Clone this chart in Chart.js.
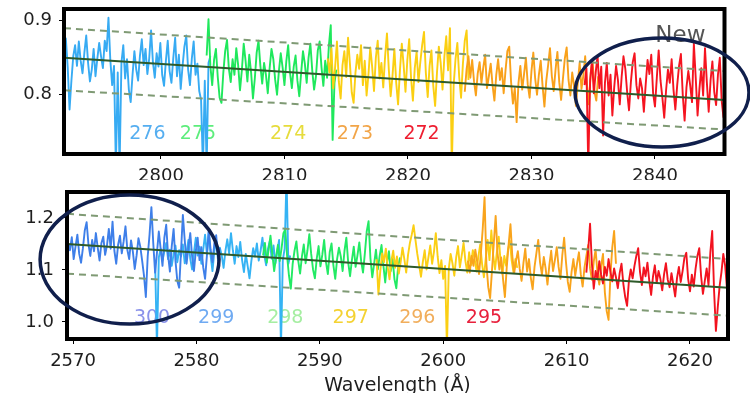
<!DOCTYPE html>
<html><head><meta charset="utf-8">
<script src="https://cdn.jsdelivr.net/npm/chart.js@4.4.1/dist/chart.umd.min.js"></script>
<style>
html,body{margin:0;padding:0;background:#fff;overflow:hidden;width:750px;height:393px;}
canvas{position:absolute;left:0;}
#c1{top:0;}
#c2{top:180px;}
</style></head><body>
<canvas id="c1" width="750" height="180"></canvas>
<canvas id="c2" width="750" height="217"></canvas>
<script>
const STEP = 0.15; // wavelength sampling (Å)

// ---------- TOP PANEL ----------
const topOrders = [276, 275, 274, 273, 272];
const topStarts = [2792.15, 2803.70, 2813.50, 2824.60, 2834.30];
const flux276 = [0.862,0.875,0.836,0.779,0.818,0.851,0.866,0.838,0.871,0.845,0.828,0.856,0.879,0.842,0.817,0.833,0.861,0.824,0.848,0.869,
0.851,0.835,0.872,0.858,0.903,0.846,0.812,0.838,0.700,0.829,0.700,0.842,0.866,0.821,0.847,0.806,0.789,0.826,0.858,0.833,
0.818,0.852,0.874,0.839,0.861,0.827,0.848,0.886,0.843,0.822,0.855,0.837,0.869,0.826,0.811,0.845,0.872,0.831,0.815,0.849,
0.876,0.824,0.853,0.807,0.838,0.864,0.879,0.833,0.812,0.848,0.871,0.826,0.841,0.804,0.792,0.700,0.818,0.700,0.842,0.851];
const flux275 = [0.852,0.901,0.838,0.812,0.846,0.861,0.823,0.795,0.788,0.829,0.858,0.873,0.834,0.816,0.847,0.826,0.862,0.839,0.805,0.832,
0.868,0.845,0.817,0.853,0.829,0.794,0.821,0.856,0.872,0.838,0.814,0.842,0.826,0.801,0.835,0.861,0.847,0.819,0.799,0.831,
0.855,0.836,0.812,0.844,0.866,0.829,0.808,0.837,0.852,0.818,0.797,0.828,0.858,0.841,0.815,0.849,0.868,0.832,0.806,0.824,
0.859,0.871,0.836,0.811,0.845,0.822,0.866,0.893,0.738,0.815,0.833];
const flux274 = [0.848,0.829,0.862,0.808,0.836,0.871,0.817,0.794,0.839,0.858,0.823,0.876,0.841,0.802,0.788,0.829,0.853,0.834,0.866,0.812,
0.845,0.798,0.826,0.863,0.837,0.804,0.849,0.872,0.821,0.842,0.809,0.851,0.882,0.833,0.797,0.825,0.861,0.815,0.786,0.832,
0.868,0.839,0.803,0.846,0.874,0.822,0.791,0.835,0.857,0.816,0.843,0.866,0.884,0.828,0.796,0.838,0.859,0.811,0.784,0.829,
0.864,0.842,0.806,0.851,0.878,0.832,0.889,0.700,0.812,0.847,0.869,0.823,0.795,0.841,0.872,0.886,0.819];
const flux273 = [0.803,0.834,0.851,0.822,0.846,0.817,0.798,0.828,0.843,0.815,0.836,0.853,0.808,0.824,0.841,0.812,0.791,0.826,0.847,0.819,
0.835,0.801,0.832,0.858,0.864,0.816,0.787,0.808,0.762,0.815,0.838,0.806,0.827,0.849,0.813,0.795,0.831,0.856,0.821,0.799,
0.826,0.845,0.811,0.783,0.818,0.839,0.862,0.824,0.804,0.833,0.857,0.816,0.792,0.821,0.848,0.863,0.819,0.798,0.829,0.811,
0.784,0.815,0.842,0.807,0.825,0.851,0.812,0.786,0.829,0.846,0.803,0.791,0.824];
const flux272 = [0.812,0.835,0.700,0.818,0.846,0.801,0.829,0.852,0.808,0.837,0.744,0.815,0.842,0.798,0.826,0.771,0.809,0.838,0.819,0.786,
0.823,0.851,0.834,0.802,0.778,0.816,0.843,0.855,0.812,0.794,0.821,0.808,0.776,0.813,0.846,0.827,0.853,0.801,0.783,0.822,
0.859,0.818,0.795,0.768,0.805,0.833,0.815,0.847,0.806,0.779,0.812,0.838,0.854,0.799,0.764,0.809,0.831,0.812,0.789,0.868,
0.822,0.771,0.807,0.835,0.798,0.862,0.816,0.776,0.818,0.844,0.803,0.785,0.826,0.849,0.791,0.768];
const topFlux = [flux276, flux275, flux274, flux273, flux272];
const topColors = ['#37abf3', '#1fe85c', '#fbcf12', '#f9a11a', '#f51420'];
const topLabelColors = ['#55aef0', '#5ded7c', '#e6dc3c', '#f2a548', '#ee1e30'];
const topLabelX = [2798.9, 2803.0, 2810.3, 2815.7, 2821.1];
const topLabelY = 0.746;
const topFitX = [2792.15, 2845.63];
const topFitY = [0.849, 0.792];
const topUpperY = [0.889, 0.831];
const topLowerY = [0.805, 0.752];
const topXTicks = [2800, 2810, 2820, 2830, 2840];
const topYTicks = [0.8, 0.9];
const topXRange = [2792.15, 2845.63];
const topYRange = [0.7189, 0.9149];
const topEllipse = [2840.57, 0.802, 7.04, 0.0736]; // centre x, centre y, radius x, radius y (data units)

// ---------- BOTTOM PANEL ----------
const botOrders = [300, 299, 298, 297, 296, 295];
const botStarts = [2569.60, 2576.65, 2585.40, 2594.60, 2602.00, 2611.60];
const flux300 = [1.152,1.138,1.163,1.121,1.145,1.168,1.131,1.114,1.142,1.176,1.192,1.149,1.127,1.158,1.136,1.171,1.143,1.118,1.152,1.164,
1.129,1.147,1.179,1.141,1.193,1.137,1.112,1.148,1.166,1.132,1.155,1.184,1.139,1.121,1.157,1.135,1.102,1.128,1.161,1.145,
1.118,1.089,1.048,1.126,1.168,1.221,1.152,1.095,1.133,1.174,1.141,1.108,1.162,1.187,1.129,1.097,1.146,1.179,1.118,1.079,
1.066,1.135,1.206,1.158,1.112,1.143,1.171,1.126,1.098,1.137,1.162,1.119,1.144,1.105,1.083,1.128,1.176,1.139,1.115,1.151,
1.167,1.124,1.142];
const flux299 = [1.118,0.950,1.124,1.141,1.118,1.136,1.152,1.121,1.139,1.108,1.131,1.147,1.115,1.138,1.126,1.149,1.113,1.135,1.158,1.122,
1.101,1.134,1.162,1.128,1.145,1.112,1.139,1.168,1.131,1.174,1.127,1.098,1.136,1.155,1.119,1.143,1.128,1.104,1.137,1.159,
1.132,1.171,1.138,1.112,1.146,1.125,1.154,1.119,1.096,1.131,1.108,1.084,1.117,1.142,1.126,1.151,1.118,1.137,1.162,1.128,
1.109,1.141,1.156,1.122,1.147,1.113,1.136,1.158,0.950,1.119,1.141,1.280,1.112,1.128];
const flux298 = [1.128,1.152,1.114,1.139,1.166,1.131,1.098,1.124,1.148,1.117,1.142,1.171,1.178,1.126,1.089,1.064,1.112,1.137,1.155,1.118,
1.093,1.126,1.149,1.113,1.138,1.169,1.131,1.101,1.084,1.122,1.146,1.107,1.129,1.158,1.115,1.092,1.134,1.151,1.109,1.083,
1.121,1.143,1.126,1.098,1.137,1.162,1.114,1.088,1.119,1.145,1.106,1.128,1.153,1.117,1.095,1.132,1.174,1.194,1.123,1.086,
1.112,1.139,1.101,1.127,1.148,1.109,1.076,1.114,1.136,1.098,1.121,1.082,1.065,1.107,1.124];
const flux297 = [1.121,1.053,1.098,1.132,1.115,1.141,1.106,1.082,1.118,1.137,1.104,1.126,1.093,1.115,1.143,1.121,1.095,1.129,1.152,1.168,
1.186,1.158,1.131,1.109,1.087,1.116,1.138,1.101,1.124,1.147,1.112,1.135,1.171,1.126,1.094,1.119,1.083,1.108,0.950,1.102,
1.131,1.113,1.089,1.124,1.146,1.105,1.128,1.152,1.117,1.095,1.134,1.109,1.138,1.121,1.097,1.126,1.149,1.112,1.086,1.123,
1.158,1.119,1.176,1.128,1.101,1.135,1.164,1.115,1.092,1.127,1.108,1.139,1.156,1.118,1.095,1.121,1.104];
const flux296 = [1.118,1.095,1.127,1.108,1.139,1.116,1.092,1.131,1.178,1.240,1.112,1.067,1.046,1.098,1.152,1.204,1.133,1.101,1.124,1.082,
1.048,1.106,1.149,1.188,1.127,1.094,1.118,1.136,1.102,1.079,1.113,1.141,1.097,1.121,1.085,1.063,1.106,1.132,1.158,1.114,
1.091,1.125,1.103,1.072,1.109,1.137,1.098,1.119,1.144,1.106,1.083,1.128,1.162,1.115,1.077,1.058,1.096,1.121,1.089,1.113,
1.134,1.092,1.068,1.105,1.127,1.148,1.103,1.081,1.116,1.139,1.095,1.072,1.108,1.131,1.057,1.021,1.004,1.089,1.143,1.175,
1.112];
const flux295 = [1.095,1.138,1.189,1.112,1.064,1.098,1.082,1.117,1.091,1.074,1.106,1.089,1.121,1.097,1.078,1.103,1.086,1.065,1.094,1.112,
1.073,1.048,1.031,1.079,1.101,1.084,1.108,1.127,1.142,1.096,1.071,1.105,1.088,1.114,1.079,1.052,1.087,1.109,1.075,1.098,
1.083,1.061,1.092,1.113,1.081,1.067,1.094,1.072,1.049,1.085,1.106,1.077,1.098,1.124,1.133,1.083,1.059,1.091,1.068,1.102,
1.127,1.142,1.088,1.054,1.079,1.103,1.071,1.134,1.175,1.061,0.983,1.028,1.069,1.096,1.131,1.108,1.063,1.092];
const botFlux = [flux300, flux299, flux298, flux297, flux296, flux295];
const botColors = ['#3e7fe9', '#35b3f4', '#22ea64', '#fbcf14', '#f9a41c', '#f2131f'];
const botLabelColors = ['#8a92ea', '#6faaf2', '#a6eea2', '#f4d232', '#f1ae5c', '#e8203c'];
const botLabelX = [2576.4, 2581.6, 2587.2, 2592.5, 2597.9, 2603.3];
const botLabelY = 1.008;
const botFitX = [2569.51, 2623.08];
const botFitY = [1.150, 1.066];
const botUpperY = [1.208, 1.121];
const botLowerY = [1.093, 1.012];
const botXTicks = [2570, 2580, 2590, 2600, 2610, 2620];
const botYTicks = [1.0, 1.1, 1.2];
const botXRange = [2569.51, 2623.08];
const botYRange = [0.9673, 1.25];
const botEllipse = [2574.58, 1.120, 7.25, 0.124];

Chart.defaults.font.family = '"DejaVu Sans", sans-serif';

function spectrumPoints(start, flux) {
  return flux.map((v, i) => ({x: start + i * STEP, y: v}));
}
function linePoints(xs, ys) { return xs.map((x, i) => ({x: x, y: ys[i]})); }

function makePanel(canvasId, p) {
  const datasets = [];
  datasets.push({data: linePoints(p.fitX, p.fitY), borderColor: '#2d5a2a', borderWidth: 2, order: 0});
  datasets.push({data: linePoints(p.fitX, p.upperY), borderColor: '#7f9a74', borderWidth: 2, borderDash: [7, 5], order: 0});
  datasets.push({data: linePoints(p.fitX, p.lowerY), borderColor: '#7f9a74', borderWidth: 2, borderDash: [7, 5], order: 0});
  p.flux.forEach((f, i) => {
    datasets.push({data: spectrumPoints(p.starts[i], f), borderColor: p.colors[i], borderWidth: 1.9, borderJoinStyle: 'round', order: p.drawOrder[i]});
  });
  const deco = {
    id: 'deco',
    beforeDatasetsDraw(chart) {
      const ctx = chart.ctx, xs = chart.scales.x, ys = chart.scales.y;
      ctx.save();
      ctx.font = '19px "DejaVu Sans"';
      ctx.textAlign = 'center'; ctx.textBaseline = 'middle';
      p.orders.forEach((o, i) => {
        ctx.fillStyle = p.labelColors[i];
        ctx.fillText(String(o), xs.getPixelForValue(p.labelX[i]), ys.getPixelForValue(p.labelY));
      });
      ctx.restore();
    },
    afterDatasetsDraw(chart) {
      const ctx = chart.ctx, xs = chart.scales.x, ys = chart.scales.y, a = chart.chartArea;
      ctx.save();
      ctx.lineWidth = 4; ctx.strokeStyle = '#000';
      ctx.strokeRect(a.left, a.top, a.right - a.left, a.bottom - a.top);
      if (p.note) {
        ctx.font = '23px "DejaVu Sans"'; ctx.fillStyle = '#555';
        ctx.textAlign = 'right'; ctx.textBaseline = 'alphabetic';
        ctx.fillText(p.note, a.right - 19, a.top + 33);
      }
      const e = p.ellipse;
      const cx = xs.getPixelForValue(e[0]), cy = ys.getPixelForValue(e[1]);
      const rx = Math.abs(xs.getPixelForValue(e[0] + e[2]) - cx);
      const ry = Math.abs(ys.getPixelForValue(e[1] + e[3]) - cy);
      ctx.beginPath(); ctx.ellipse(cx, cy, rx, ry, 0, 0, 2 * Math.PI);
      ctx.lineWidth = 3.5; ctx.strokeStyle = '#101f4c'; ctx.stroke();
      ctx.restore();
    }
  };
  const tickFont = {family: '"DejaVu Sans"', size: 18};
  return new Chart(document.getElementById(canvasId), {
    type: 'line',
    data: {datasets: datasets},
    plugins: [deco],
    options: {
      responsive: false, animation: false, events: [],
      parsing: false, normalized: true,
      layout: {padding: p.padding},
      elements: {point: {radius: 0}, line: {tension: 0}},
      plugins: {legend: {display: false}, tooltip: {enabled: false}},
      scales: {
        x: {
          type: 'linear', min: p.xRange[0], max: p.xRange[1],
          afterBuildTicks: s => { s.ticks = p.xTicks.map(v => ({value: v})); },
          afterFit: s => { s.height = p.xAxisH; s.paddingLeft = 0; s.paddingRight = 0; },
          grid: {drawOnChartArea: false, tickLength: 5, color: '#000', lineWidth: 1},
          border: {display: false},
          ticks: {padding: 7, color: '#1e1e1e', font: tickFont, maxRotation: 0, autoSkip: false, callback: v => String(v)},
          title: p.xTitle ? {display: true, text: p.xTitle, color: '#1e1e1e', font: {family: '"DejaVu Sans"', size: 19}, padding: {top: 4, bottom: 0}} : {display: false}
        },
        y: {
          type: 'linear', min: p.yRange[0], max: p.yRange[1],
          afterBuildTicks: s => { s.ticks = p.yTicks.map(v => ({value: v})); },
          afterFit: s => { s.width = p.yAxisW; s.paddingTop = 0; s.paddingBottom = 0; },
          grid: {drawOnChartArea: false, tickLength: 5, color: '#000', lineWidth: 1},
          border: {display: false},
          ticks: {padding: p.yPad, color: '#1e1e1e', font: tickFont, autoSkip: false, callback: v => v.toFixed(1)}
        }
      }
    }
  });
}

makePanel('c1', {
  orders: topOrders, starts: topStarts, flux: topFlux, colors: topColors, drawOrder: [5, 4, 3, 2, 1],
  labelColors: topLabelColors, labelX: topLabelX, labelY: topLabelY,
  fitX: topFitX, fitY: topFitY, upperY: topUpperY, lowerY: topLowerY,
  xTicks: topXTicks, yTicks: topYTicks, xRange: topXRange, yRange: topYRange,
  ellipse: topEllipse, note: 'New',
  padding: {top: 9, right: 25.5, left: 0, bottom: 0}, xAxisH: 26, yAxisW: 64, yPad: 7
});
makePanel('c2', {
  orders: botOrders, starts: botStarts, flux: botFlux, colors: botColors, drawOrder: [5, 6, 4, 3, 2, 1],
  labelColors: botLabelColors, labelX: botLabelX, labelY: botLabelY,
  fitX: botFitX, fitY: botFitY, upperY: botUpperY, lowerY: botLowerY,
  xTicks: botXTicks, yTicks: botYTicks, xRange: botXRange, yRange: botYRange,
  ellipse: botEllipse, note: null, xTitle: 'Wavelength (Å)',
  padding: {top: 12, right: 22, left: 0, bottom: 0}, xAxisH: 58, yAxisW: 67, yPad: 8
});
</script>
</body></html>
